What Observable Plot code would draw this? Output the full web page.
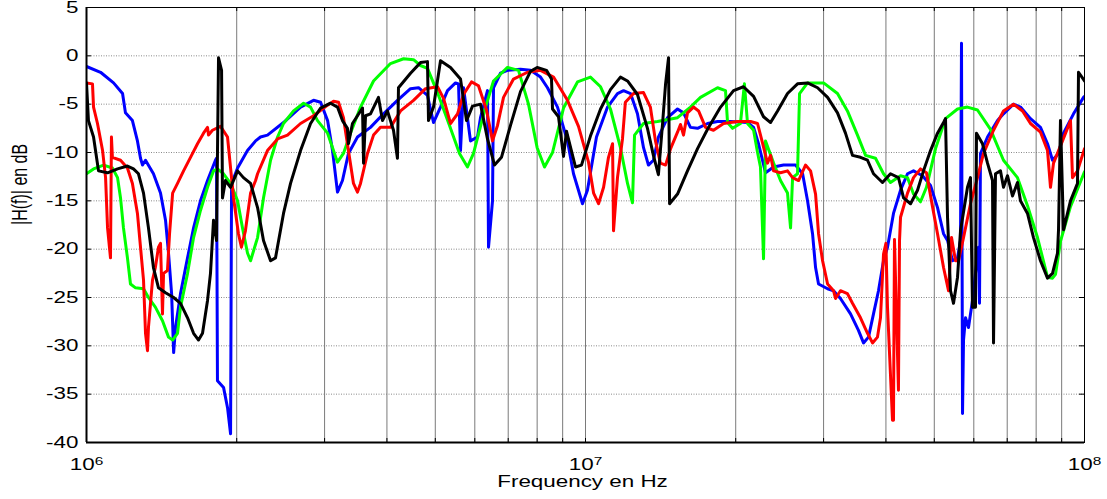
<!DOCTYPE html>
<html><head><meta charset="utf-8">
<script src="https://cdn.jsdelivr.net/npm/d3@7"></script>
<script src="https://cdn.jsdelivr.net/npm/@observablehq/plot@0.6"></script>
<style>html,body{margin:0;padding:0;background:#fff;}</style>
</head><body><div id="chart"></div>
<script>
// Frequencies in MHz, magnitudes in dB
const blueMHz = [1.00,1.067,1.133,1.181,1.197,1.236,1.265,1.283,1.295,1.313,1.362,1.407,1.440,1.460,1.481,1.495,1.508,1.543,1.594,1.639,1.692,1.748,1.813,1.822,1.830,1.882,1.917,1.944,1.953,2.008,2.102,2.182,2.232,2.305,2.482,2.685,2.851,2.945,3.042,3.112,3.184,3.258,3.349,3.492,3.708,3.937,4.199,4.460,4.628,4.823,4.959,5.122,5.290,5.489,5.566,5.617,5.696,5.882,6.075,6.160,6.362,6.392,6.511,6.541,6.755,6.977,7.408,7.758,8.125,8.392,8.788,9.202,9.462,9.863,10.09,10.52,11.07,11.59,11.92,12.31,12.71,13.07,13.37,13.68,14.00,14.60,15.29,15.72,16.23,16.77,17.56,18.39,19.53,21.12,21.72,22.22,22.95,23.82,24.94,26.36,27.23,27.86,28.51,28.91,29.31,30.56,31.41,32.43,33.97,35.24,36.07,36.91,37.77,38.65,39.56,40.29,41.42,42.79,44.19,45.43,47.35,49.14,50.75,52.18,53.15,54.39,55.66,56.43,56.69,56.96,57.22,57.75,58.55,59.64,60.47,61.31,61.60,61.88,63.92,66.94,68.81,72.06,74.42,77.94,81.62,84.31,86.28,88.70,90.77,95.06,99.55,100];
const blueDB = [-1.1,-1.7,-2.8,-3.9,-5.9,-6.7,-8.8,-10.6,-11.3,-10.8,-12.2,-14.2,-17.0,-20.4,-24.6,-30.7,-28.1,-24.6,-20.9,-17.8,-15.0,-12.9,-10.8,-10.6,-33.6,-34.3,-36.4,-39.1,-13.2,-11.6,-9.8,-8.8,-8.4,-8.2,-6.9,-5.3,-4.6,-4.8,-6.7,-9.8,-14.1,-12.9,-10.1,-8.4,-7.4,-6.0,-4.6,-3.4,-3.3,-4.1,-6.9,-5.3,-3.6,-2.8,-2.9,-9.8,-3.3,-8.8,-8.4,-6.4,-3.6,-19.8,-15.0,-3.3,-1.8,-1.5,-1.4,-1.5,-2.2,-3.3,-5.3,-8.8,-12.2,-15.3,-13.9,-8.4,-5.3,-3.9,-3.6,-3.9,-6.0,-9.5,-11.3,-10.8,-8.4,-6.4,-5.5,-5.9,-7.4,-7.5,-7.0,-6.8,-6.8,-6.9,-7.4,-9.1,-12.1,-11.5,-11.3,-11.3,-12.2,-15.0,-18.4,-21.9,-23.6,-24.1,-24.3,-25.1,-26.7,-28.4,-29.7,-29.1,-26.7,-24.3,-21.2,-19.8,-16.3,-13.9,-12.2,-11.9,-12.4,-13.4,-15.7,-18.4,-19.1,-21.2,-20.9,-19.1,1.3,-37.0,-29.4,-27.1,-28.1,-25.3,-22.5,-19.8,-25.6,-10.1,-8.4,-6.7,-6.0,-5.0,-5.3,-6.5,-7.4,-9.1,-10.8,-10.1,-8.0,-6.0,-4.3,-4.2];

const greenMHz = [1.00,1.033,1.082,1.127,1.154,1.170,1.186,1.208,1.225,1.254,1.301,1.331,1.374,1.420,1.460,1.488,1.522,1.543,1.594,1.639,1.692,1.748,1.797,1.830,1.882,1.944,2.008,2.054,2.102,2.132,2.202,2.263,2.338,2.415,2.482,2.600,2.723,2.812,2.904,3.042,3.184,3.273,3.381,3.541,3.760,4.066,4.319,4.522,4.670,4.823,5.051,5.339,5.591,5.801,5.964,6.304,6.541,6.977,7.340,7.687,8.000,8.277,8.588,9.035,9.637,10.23,10.72,11.22,11.75,12.14,12.42,12.54,13.07,13.94,15.29,16.23,17.00,18.39,19.08,19.26,19.71,20.44,20.82,21.12,21.72,22.12,22.42,22.74,22.95,23.82,24.59,25.40,25.76,26.00,26.60,26.85,27.86,30.00,31.99,33.49,35.08,36.41,38.12,39.56,40.85,42.79,44.19,45.43,46.92,48.23,50.29,52.66,55.66,58.28,61.03,64.81,68.81,73.40,76.87,80.50,84.31,86.28,87.48,89.51,93.74,100];
const greenDB = [-12.2,-11.7,-11.3,-11.6,-12.6,-14.7,-17.8,-20.9,-23.6,-24.0,-24.1,-25.0,-26.0,-27.4,-29.1,-29.4,-28.7,-26.0,-22.5,-18.8,-16.0,-13.6,-11.9,-11.7,-12.2,-13.2,-15.0,-17.8,-20.4,-21.2,-18.8,-14.7,-10.8,-8.4,-7.0,-5.7,-4.9,-5.3,-6.7,-8.0,-11.0,-10.1,-8.0,-5.3,-2.6,-0.8,-0.3,-0.4,-1.0,-1.3,-3.8,-7.2,-10.1,-11.5,-10.1,-5.3,-2.6,-1.2,-1.5,-5.0,-9.5,-11.5,-10.0,-5.4,-2.7,-2.2,-3.2,-5.5,-9.5,-13.2,-15.2,-8.2,-7.0,-6.8,-6.4,-5.3,-4.3,-3.3,-3.6,-6.9,-7.5,-7.0,-2.9,-7.0,-7.7,-10.0,-11.5,-21.0,-8.8,-11.1,-12.9,-14.2,-17.8,-12.6,-12.2,-3.9,-2.8,-2.8,-3.9,-5.7,-8.2,-10.3,-10.6,-12.2,-13.1,-12.4,-12.6,-14.3,-15.1,-13.6,-9.6,-6.5,-5.5,-5.3,-5.6,-7.6,-10.8,-12.6,-15.5,-18.8,-22.9,-23.0,-22.6,-19.2,-15.6,-12.0];

const redMHz = [1.00,1.028,1.033,1.052,1.077,1.092,1.102,1.117,1.122,1.127,1.170,1.208,1.236,1.265,1.283,1.301,1.313,1.325,1.331,1.356,1.374,1.394,1.407,1.420,1.427,1.453,1.467,1.488,1.522,1.565,1.616,1.669,1.716,1.748,1.756,1.788,1.856,1.917,1.944,1.971,2.016,2.044,2.082,2.132,2.182,2.202,2.305,2.415,2.528,2.685,2.851,3.042,3.126,3.199,3.273,3.349,3.428,3.492,3.541,3.657,3.760,3.883,4.066,4.259,4.522,4.779,5.051,5.194,5.364,5.540,5.696,5.909,6.103,6.333,6.511,6.663,6.850,7.173,7.651,8.125,8.628,9.202,9.682,10.14,10.38,10.62,10.87,11.12,11.33,11.38,11.59,11.86,12.02,12.48,13.07,13.49,13.81,14.13,14.47,14.81,15.29,15.50,15.72,16.01,16.46,16.85,17.40,18.05,18.91,20.16,21.42,22.12,22.63,23.16,23.49,23.82,24.59,25.40,26.00,26.73,27.60,28.25,28.91,29.31,29.86,30.56,31.41,31.70,32.43,33.49,34.28,35.57,36.74,37.60,38.47,39.01,39.56,40.00,40.29,41.23,41.42,41.61,42.38,42.59,42.79,44.19,45.43,46.92,48.23,49.59,50.75,52.18,53.39,54.14,55.15,55.91,57.22,59.09,61.03,62.75,65.72,68.81,72.06,75.12,77.94,81.62,84.31,85.48,86.68,90.35,93.74,94.62,96.82,100];
const redDB = [-2.8,-2.9,-5.3,-7.0,-9.8,-12.6,-17.8,-20.9,-8.4,-10.5,-10.8,-11.6,-13.2,-16.3,-19.8,-23.2,-28.7,-30.5,-28.1,-23.2,-21.9,-19.8,-19.4,-26.7,-22.5,-22.2,-18.4,-14.2,-13.2,-11.9,-10.5,-9.1,-8.0,-7.4,-8.2,-7.7,-7.3,-8.4,-11.6,-14.7,-18.4,-19.8,-18.1,-14.2,-12.9,-12.2,-9.8,-8.6,-8.2,-7.0,-6.2,-5.1,-4.7,-4.8,-6.4,-9.8,-13.2,-14.1,-13.2,-10.1,-8.2,-7.4,-7.4,-5.7,-4.6,-3.4,-3.2,-4.4,-7.0,-6.0,-4.0,-2.7,-3.1,-5.6,-8.8,-7.2,-4.3,-2.4,-1.7,-1.5,-2.2,-4.6,-7.3,-11.0,-14.2,-15.3,-13.6,-10.5,-9.1,-18.1,-12.6,-8.6,-4.8,-3.9,-3.8,-5.3,-8.8,-11.1,-11.3,-9.6,-7.9,-7.1,-8.2,-5.9,-5.3,-5.7,-7.4,-7.7,-7.0,-6.8,-6.8,-7.0,-9.0,-11.1,-10.3,-11.9,-12.1,-11.9,-12.6,-12.9,-11.3,-11.9,-14.3,-18.4,-21.2,-23.6,-24.3,-25.1,-24.3,-24.6,-25.6,-27.1,-28.7,-29.7,-29.1,-27.1,-20.5,-19.4,-26.0,-37.7,-37.7,-19.0,-34.6,-19.1,-16.7,-14.2,-12.6,-11.7,-12.1,-15.6,-18.4,-21.9,-24.3,-18.8,-21.2,-21.2,-18.8,-15.3,-12.6,-10.1,-7.7,-5.7,-5.0,-5.7,-7.0,-7.9,-9.8,-13.6,-11.1,-8.8,-6.7,-12.6,-11.9,-9.6];

const blackMHz = [1.00,1.009,1.033,1.057,1.102,1.154,1.208,1.242,1.271,1.301,1.331,1.362,1.394,1.440,1.495,1.543,1.594,1.639,1.677,1.708,1.748,1.772,1.797,1.822,1.839,1.865,1.873,1.899,1.944,2.008,2.063,2.132,2.202,2.263,2.338,2.392,2.482,2.564,2.685,2.812,2.945,3.083,3.184,3.258,3.334,3.349,3.412,3.574,3.591,3.624,3.708,3.847,3.919,4.010,4.123,4.199,4.219,4.460,4.670,4.823,4.846,4.959,5.122,5.364,5.617,5.775,5.937,6.160,6.362,6.572,6.786,7.074,7.408,7.758,8.000,8.353,8.548,8.588,8.829,9.035,9.160,9.549,9.817,10.23,10.72,11.22,11.75,12.14,12.71,13.31,13.68,14.00,14.27,14.47,14.67,14.74,15.29,16.01,16.77,17.56,18.65,19.80,20.73,21.72,22.74,23.49,24.26,25.40,26.60,27.86,29.18,30.56,31.99,33.19,34.28,35.57,36.74,37.77,39.37,40.85,42.38,43.39,44.81,46.28,47.57,49.14,50.75,52.18,52.66,53.15,53.89,54.64,55.66,56.43,58.28,59.09,59.64,60.47,60.75,62.46,63.92,65.41,65.72,66.32,67.86,68.81,70.09,71.73,73.40,74.42,76.87,79.03,81.62,84.31,86.28,88.29,88.70,89.51,90.77,93.74,96.82,97.27,100];
const blackDB = [-2.8,-6.7,-8.4,-11.9,-12.1,-11.7,-11.4,-11.7,-12.2,-14.2,-17.8,-21.9,-24.0,-24.5,-25.0,-25.6,-27.1,-28.7,-29.4,-28.7,-25.3,-22.5,-17.0,-19.1,-0.2,-1.5,-14.7,-12.9,-13.6,-11.9,-12.6,-13.2,-15.7,-19.1,-21.2,-20.9,-16.3,-13.2,-9.8,-7.0,-5.4,-4.9,-5.3,-6.7,-7.5,-9.1,-7.0,-5.4,-11.1,-6.2,-6.0,-4.3,-6.7,-5.7,-7.7,-10.6,-3.3,-1.8,-0.7,-0.6,-6.7,-5.3,-0.5,-1.2,-2.4,-6.7,-5.2,-5.0,-8.6,-11.3,-10.5,-7.2,-3.7,-1.6,-1.2,-1.5,-2.4,-5.5,-6.3,-10.4,-7.8,-11.5,-11.3,-8.3,-5.5,-3.5,-2.2,-2.6,-4.0,-7.5,-10.3,-12.3,-7.0,-2.9,-0.2,-15.3,-14.3,-11.9,-9.6,-7.6,-5.3,-3.6,-3.2,-4.2,-6.3,-6.9,-5.7,-3.9,-2.9,-2.8,-3.3,-4.3,-5.9,-8.0,-10.3,-10.5,-10.8,-12.2,-13.1,-12.2,-12.6,-14.7,-15.3,-13.9,-11.9,-9.8,-8.0,-6.9,-6.5,-16.7,-24.3,-25.6,-22.9,-18.1,-13.6,-12.6,-26.0,-26.0,-8.0,-9.1,-11.1,-12.9,-29.7,-12.2,-11.9,-13.6,-12.4,-14.5,-13.1,-15.0,-16.3,-18.8,-21.2,-23.0,-22.5,-20.4,-18.0,-6.7,-18.0,-15.0,-13.2,-1.7,-2.6];

const xTicks = [1e6, 1e7, 1e8];
const gridFreqs = [2e6,3e6,4e6,5e6,6e6,7e6,8e6,9e6,1e7,2e7,3e7,4e7,5e7,6e7,7e7,8e7,9e7];
const tickFreqs = [1e6,2e6,3e6,4e6,5e6,6e6,7e6,8e6,9e6,1e7,2e7,3e7,4e7,5e7,6e7,7e7,8e7,9e7,1e8];
const yTicks = [5,0,-5,-10,-15,-20,-25,-30,-35,-40];
const xDomain = [1e6, 1e8];
const yDomain = [-40, 5];
const xLabel = "Frequency en Hz";
const yLabel = "|H(f)| en dB";

function rows(mhz, db) { return mhz.map((f, i) => ({f: f * 1e6, db: db[i]})); }

const W = 1107, H = 499, mL = 86, mR = 23, mT = 7, mB = 57;
const pw = W - mL - mR, ph = H - mT - mB;
const lw = 3;

const chart = Plot.plot({
  width: W, height: H,
  marginLeft: mL, marginRight: mR, marginTop: mT, marginBottom: mB,
  style: {background: "white", fontFamily: "'Liberation Sans', Arial, sans-serif", fontSize: "16px", color: "black", overflow: "visible"},
  x: {type: "log", domain: xDomain, ticks: xTicks, tickFormat: d => `10^${Math.round(Math.log10(d))}`, tickSize: 0, tickPadding: 16, label: null},
  y: {domain: yDomain, ticks: yTicks, tickFormat: d => String(d), tickSize: 0, tickPadding: 8, label: null},
  marks: [
    Plot.ruleY(yTicks.slice(1, -1), {stroke: "#8a8a8a", strokeWidth: 1, strokeDasharray: "1,1.5"}),
    Plot.ruleX(gridFreqs, {stroke: "#7a7a7a", strokeWidth: 1}),
    Plot.ruleX(tickFreqs, {stroke: "black", insetTop: ph - 4}),
    Plot.ruleX(tickFreqs, {stroke: "black", insetBottom: ph - 4}),
    Plot.ruleY(yTicks, {stroke: "black", insetRight: pw - 5}),
    Plot.ruleY(yTicks, {stroke: "black", insetLeft: pw - 5}),
    Plot.line(rows(blueMHz, blueDB), {x: "f", y: "db", stroke: "#0000ff", strokeWidth: lw, strokeLinejoin: "round", clip: true}),
    Plot.line(rows(greenMHz, greenDB), {x: "f", y: "db", stroke: "#00ff00", strokeWidth: lw, strokeLinejoin: "round", clip: true}),
    Plot.line(rows(redMHz, redDB), {x: "f", y: "db", stroke: "#ff0000", strokeWidth: lw, strokeLinejoin: "round", clip: true}),
    Plot.line(rows(blackMHz, blackDB), {x: "f", y: "db", stroke: "#000000", strokeWidth: lw, strokeLinejoin: "round", clip: true}),
    Plot.frame({stroke: "black", strokeWidth: 1}),
    Plot.ruleX([xDomain[0]], {stroke: "black", strokeWidth: 2}),
    Plot.ruleY([yDomain[0]], {stroke: "black", strokeWidth: 2}),
    Plot.text([xLabel], {frameAnchor: "bottom", dy: 44, dx: -3, fontSize: 16, fill: "black"}),
    Plot.text([yLabel], {frameAnchor: "left", dx: -67, rotate: -90, fontSize: 16, fill: "black"})
  ]
});
document.getElementById("chart").append(chart);

// superscript exponents and horizontally stretched lettering as in the reference
const svg = chart.tagName.toLowerCase() === "svg" ? chart : chart.querySelector("svg");
const SX = 1.4;
svg.querySelectorAll("text").forEach(t => {
  const m = /^10\^(\d+)$/.exec(t.textContent);
  if (m) {
    t.textContent = "10";
    const ts = document.createElementNS("http://www.w3.org/2000/svg", "tspan");
    ts.setAttribute("dy", "-0.45em");
    ts.setAttribute("font-size", "11");
    ts.textContent = m[1];
    t.appendChild(ts);
  }
});
svg.querySelectorAll("text").forEach(t => {
  const bb = t.getBBox();
  const prev = t.getAttribute("transform") || "";
  if (t.textContent === yLabel) {
    const cy = bb.y + bb.height / 2;
    t.setAttribute("transform", `${prev} translate(0,${cy}) scale(1,${SX}) translate(0,${-cy})`);
  } else {
    const a = getComputedStyle(t).textAnchor;
    const ax = a === "end" ? bb.x + bb.width : a === "middle" ? bb.x + bb.width / 2 : bb.x;
    t.setAttribute("transform", `${prev} translate(${ax},0) scale(${SX},1) translate(${-ax},0)`);
  }
});
</script>
</body></html>
